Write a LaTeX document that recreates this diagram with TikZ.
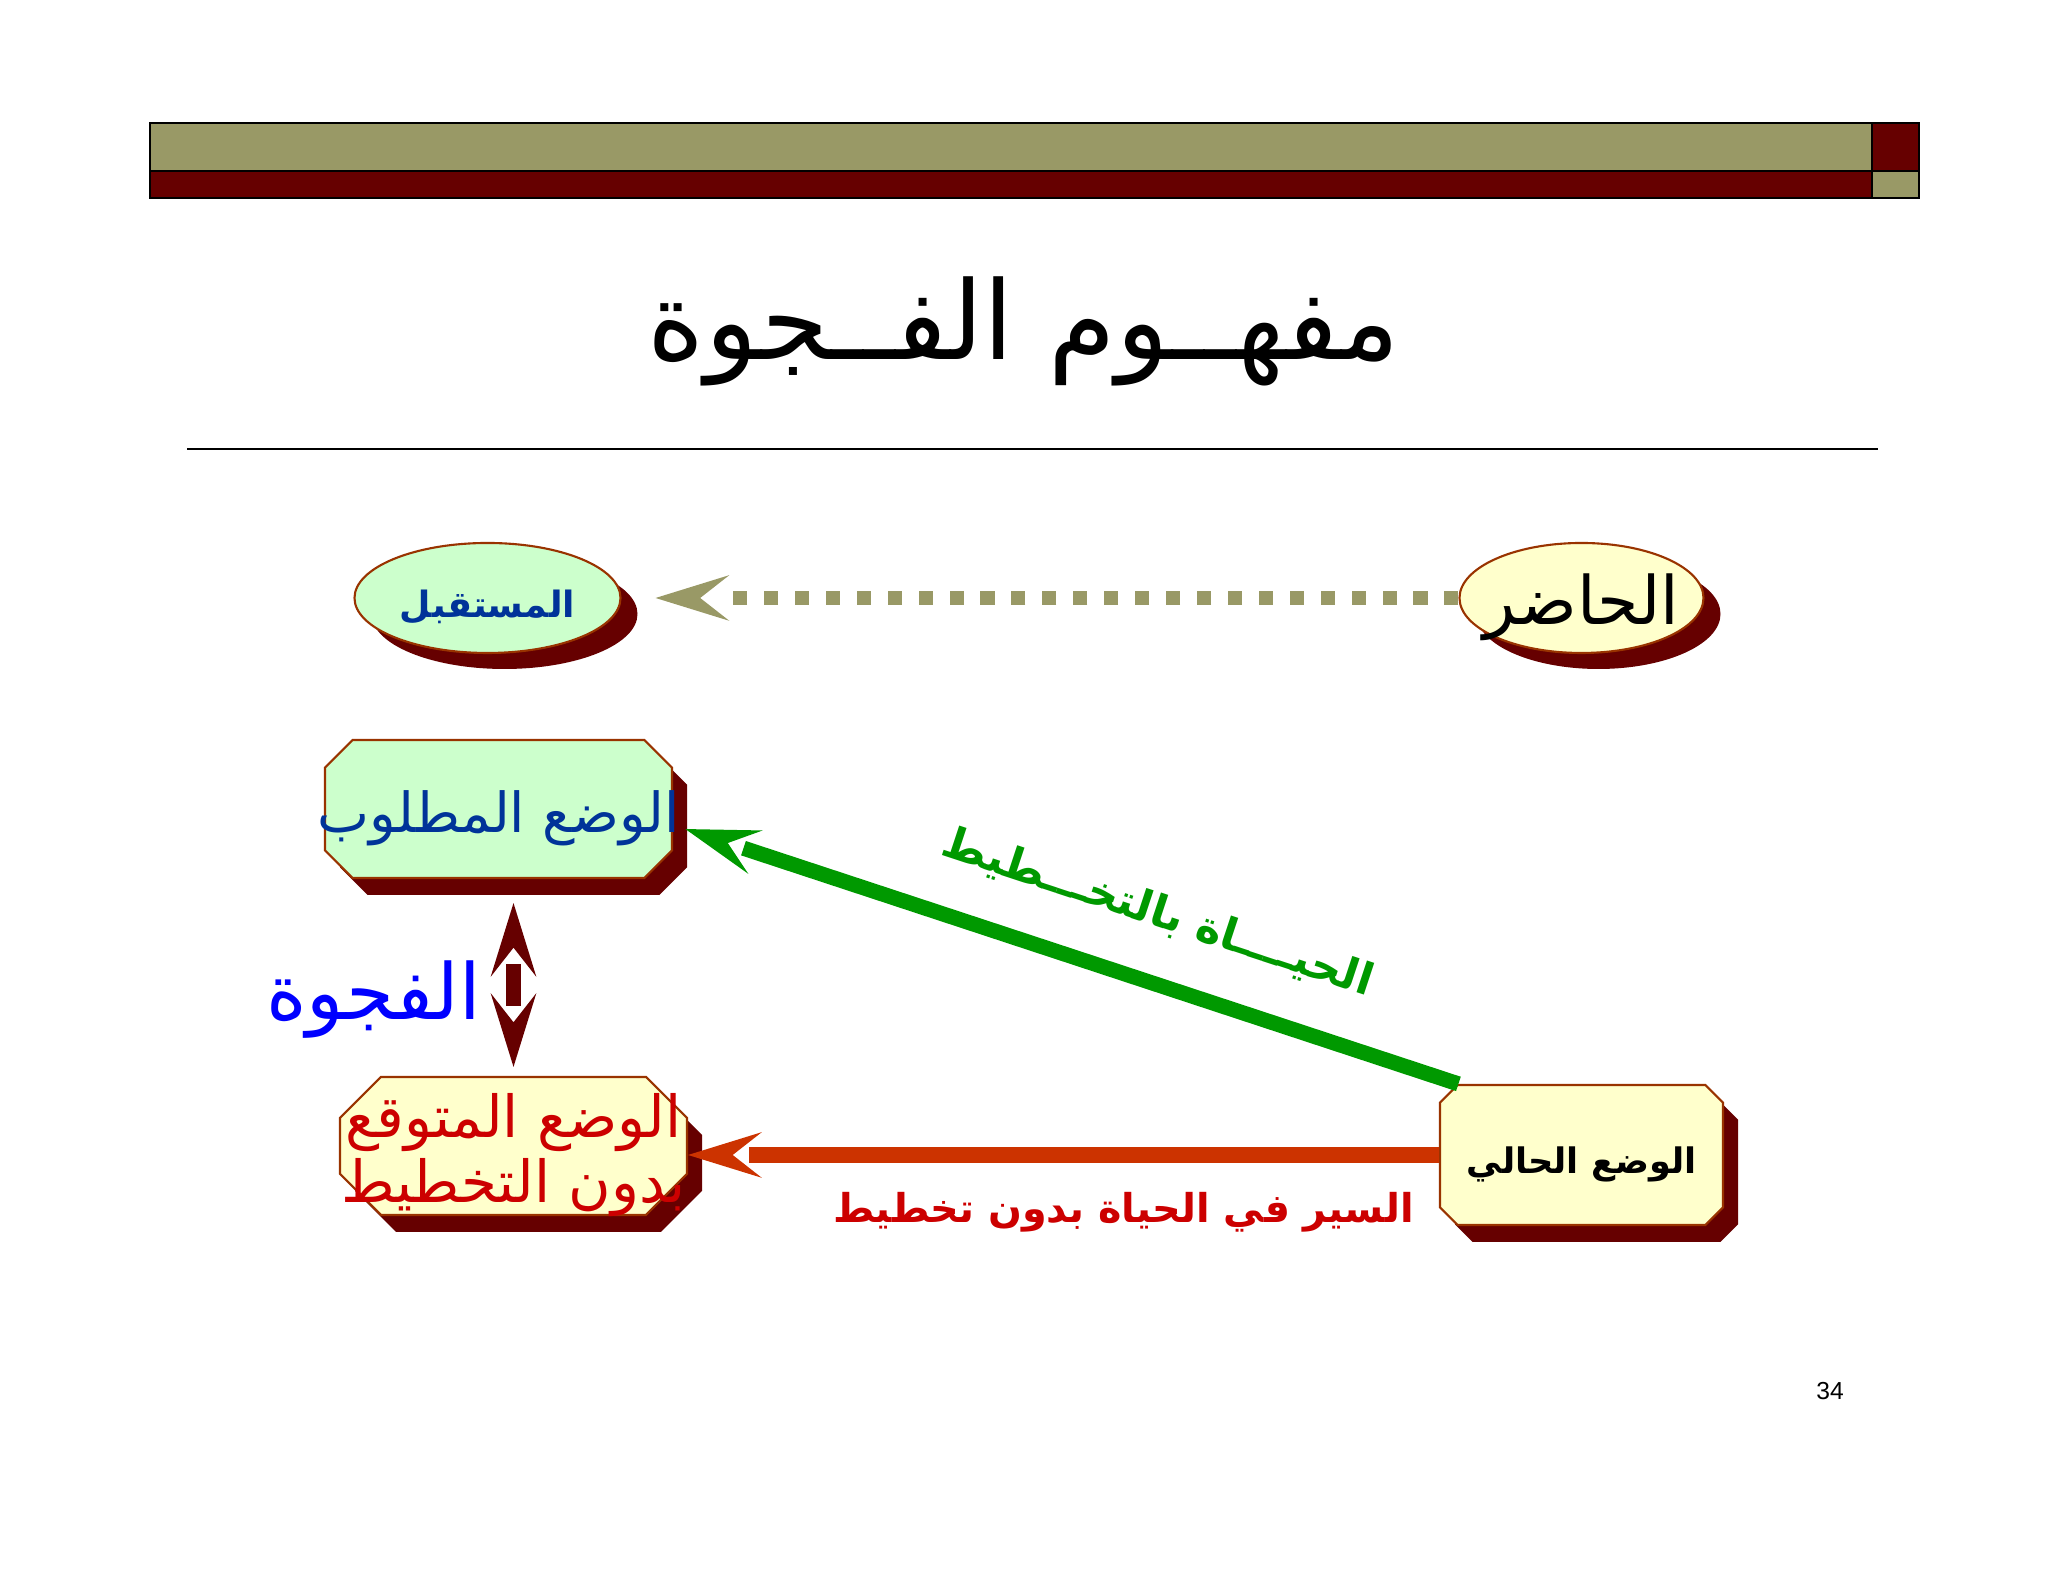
\documentclass[tikz,border=0pt]{standalone}
\usepackage{fontspec}
\usepackage{tikz}
\usetikzlibrary{positioning,arrows.meta,shapes.geometric,shapes.misc,shadows}
\TeXXeTstate=1
\newfontfamily\arabicfont[Script=Arabic]{DejaVu Sans}
\newfontfamily\pagefont{Liberation Sans}
\newcommand{\rl}[1]{\beginR#1\endR}
% text set in the middle of a shape, a little lower, taking no width
\newcommand{\inshape}[1]{\makebox[0pt]{\raisebox{-0.9mm}[\height][\depth]{\rl{#1}}}}

\definecolor{olivebar}{HTML}{999966}
\definecolor{darkred}{HTML}{660000}
\definecolor{facegreen}{HTML}{CCFFCC}
\definecolor{faceyellow}{HTML}{FFFFCC}
\definecolor{rim}{HTML}{993300}
\definecolor{navy}{HTML}{003399}
\definecolor{gapblue}{HTML}{0000FF}
\definecolor{planred}{HTML}{CC0000}
\definecolor{plangreen}{HTML}{009900}
\definecolor{drift}{HTML}{CC3300}

\begin{document}
\begin{tikzpicture}[on grid,
    every node/.style={font=\arabicfont,inner sep=0pt},
    >={Stealth[length=21pt,width=13pt,inset=8.3pt,line width=0pt]},
    headonly/.style={postaction={draw,#1,dash pattern=on 0pt off 200cm}},
    oval/.style={ellipse,draw=rim,line width=0.6pt,minimum height=1.1cm,
      general shadow={fill=darkred,shadow xshift=1.7mm,shadow yshift=-1.6mm}},
    octagon/.style={chamfered rectangle,chamfered rectangle xsep=0.41cm,
      chamfered rectangle ysep=0.41cm,draw=rim,line width=0.6pt,
      minimum width=3.47cm,minimum height=1.38cm,
      general shadow={fill=darkred,shadow xshift=1.5mm,shadow yshift=-1.7mm}}]
    \useasboundingbox (0,0) rectangle (20.48,15.82);
    % band on top
    \draw[line width=0.8pt,fill=olivebar] (1.50,14.11) rectangle (18.72,14.59);
    \draw[line width=0.8pt,fill=darkred] (18.72,14.11) rectangle (19.19,14.59);
    \draw[line width=0.8pt,fill=darkred] (1.50,13.84) rectangle (18.72,14.11);
    \draw[line width=0.8pt,fill=olivebar] (18.72,13.84) rectangle (19.19,14.11);
    \node[anchor=base,font=\arabicfont\fontsize{31}{38}\selectfont] (title) at (10.24,12.22) {\rl{مفهــوم الفــجوة}};
    \draw[line width=0.6pt] (1.87,11.33) -- (18.78,11.33);

    \node[octagon,fill=faceyellow,minimum width=2.83cm,minimum height=1.40cm,
      font=\arabicfont\bfseries\fontsize{10}{12}\selectfont] (current) at (15.815,4.27) {\inshape{الوضع الحالي}};
    \node[oval,fill=faceyellow,minimum width=2.44cm,font=\arabicfont\fontsize{19}{22}\selectfont,
      above=5.57cm of current] (present) {\inshape{الحاضر}};
    \node[oval,fill=facegreen,minimum width=2.66cm,text=navy,
      font=\arabicfont\bfseries\fontsize{10.3}{12}\selectfont,left=10.94cm of present] (future) {\inshape{المستقبل}};
    \node[octagon,fill=faceyellow,text=planred,align=center,font=\arabicfont\fontsize{16.5}{18.5}\selectfont,
      above left=0.09cm and 10.68cm of current] (expected)
      {\inshape{الوضع المتوقع}\\\inshape{بدون التخطيط}};
    \node[octagon,fill=facegreen,text=navy,font=\arabicfont\fontsize{15.7}{18}\selectfont,
      above left=3.37cm and 0.15cm of expected] (desired) {\inshape{الوضع المطلوب}};

    \draw[olivebar,line width=4pt,dash pattern=on 4pt off 4.8pt,shorten >=27pt,
      headonly={->,shorten >=3.4mm}] (present.west) -- (future.east);
    \draw[plangreen,line width=4.3pt,shorten >=21.1pt,headonly={->,shorten >=1.3mm}]
      (current.150) -- ([yshift=-1.6mm]desired.east)
      node[pos=0.41,sloped,above=4mm,font=\arabicfont\bfseries\fontsize{12.5}{15}\selectfont] (planlabel) {\rl{الحيــــاة بالتخـــطيط}};
    \draw[drift,line width=4.3pt,shorten >=17.4pt,headonly={->,shorten >=0pt}]
      (current.west) -- (current.west -| expected.east)
      node[pos=0.42,below=3mm,text=planred,font=\arabicfont\bfseries\fontsize{11.3}{14}\selectfont] (driftlabel) {\rl{السير في الحياة بدون تخطيط}};
    \draw[darkred,line width=4.3pt,shorten <=24.2pt,shorten >=20pt,
      headonly={<->,shorten <=2.4mm,shorten >=0.9mm}]
      (desired.south -| expected.north) -- (expected.north)
      node[midway,left=2.5mm,yshift=-2.2mm,text=gapblue,font=\arabicfont\fontsize{22}{26}\selectfont] (gap) {\rl{الفجوة}};

    \node[font=\pagefont\fontsize{7}{8}\selectfont] (pageno) at (18.30,1.905) {34};
\end{tikzpicture}
\end{document}
